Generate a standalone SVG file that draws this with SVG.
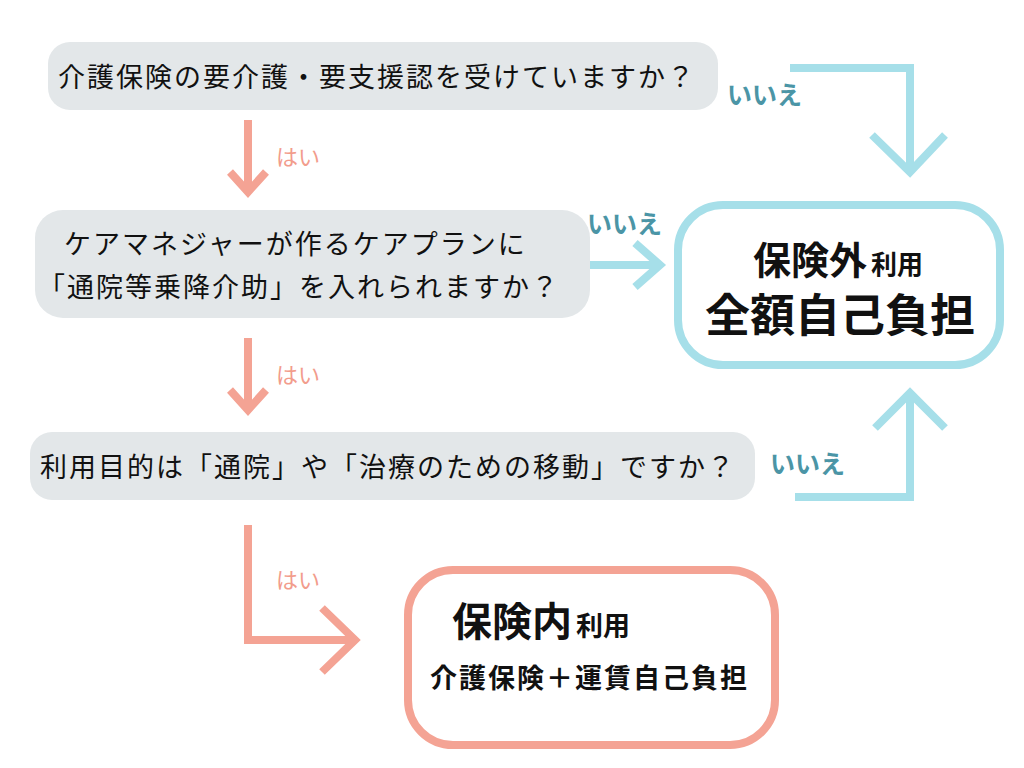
<svg xmlns="http://www.w3.org/2000/svg" width="1024" height="768" viewBox="0 0 1024 768">
<style>
.q{fill:#e3e7e9}
.t{font-family:"Noto Sans CJK JP",sans-serif;fill:#111}
.qt{font-size:27px;letter-spacing:2px}
.b{font-weight:bold}
.no{font-family:"Noto Sans CJK JP",sans-serif;font-size:25px;fill:#4b95a6;font-weight:bold}
.yes{font-family:"Noto Sans CJK JP",sans-serif;font-size:22px;fill:#f29c8c}
.ta{fill:none;stroke:#a6dfe9;stroke-width:8}
.sa{fill:none;stroke:#f4a394;stroke-width:8}
</style>
<rect width="1024" height="768" fill="#fff"/>
<g id="q1"><rect class="q" x="48" y="42" width="670" height="68" rx="22"/><text class="t qt" x="58" y="87">介護保険の要介護・要支援認を受けていますか？</text></g>
<g id="q2"><rect class="q" x="35" y="210" width="555" height="108" rx="28"/><text class="t qt" x="64" y="254">ケアマネジャーが作るケアプランに</text><text class="t qt" x="38" y="297">「通院等乗降介助」を入れられますか？</text></g>
<g id="q3"><rect class="q" x="30" y="432" width="725" height="68" rx="22"/><text class="t qt" x="40" y="477">利用目的は「通院」や「治療のための移動」ですか？</text></g>
<g id="out"><rect x="678" y="205" width="322" height="160" rx="45" fill="#fff" stroke="#a6dfe9" stroke-width="8"/><text class="t b" x="838" y="274" text-anchor="middle"><tspan font-size="38">保険外</tspan><tspan font-size="26" dx="4">利用</tspan></text><text class="t b" x="840" y="332" text-anchor="middle" font-size="45">全額自己負担</text></g>
<g id="in"><rect x="408" y="570" width="367" height="175" rx="45" fill="#fff" stroke="#f4a394" stroke-width="8"/><text class="t b" x="452" y="636"><tspan font-size="40">保険内</tspan><tspan font-size="27" dx="4">利用</tspan></text><text class="t b" x="430" y="688" font-size="27" letter-spacing="2">介護保険＋運賃自己負担</text></g>
<g id="connectors">
<path class="ta" d="M790 68H910V170M872 135L910 172L945 135"/>
<path class="ta" d="M590 265H660M635 243L660 265L635 287"/>
<path class="ta" d="M795 497H910V395M875 428L910 393L945 428"/>
<path class="sa" d="M248 120V192M230 172L248 192L266 172"/>
<path class="sa" d="M248 338V410M230 390L248 410L266 390"/>
<path class="sa" d="M248 525V640H355M322 608L355 640L322 672"/>
</g>
<text class="no" x="727" y="104">いいえ</text>
<text class="no" x="587" y="233">いいえ</text>
<text class="no" x="770" y="473">いいえ</text>
<text class="yes" x="276" y="165">はい</text>
<text class="yes" x="276" y="383">はい</text>
<text class="yes" x="276" y="588">はい</text>
</svg>
